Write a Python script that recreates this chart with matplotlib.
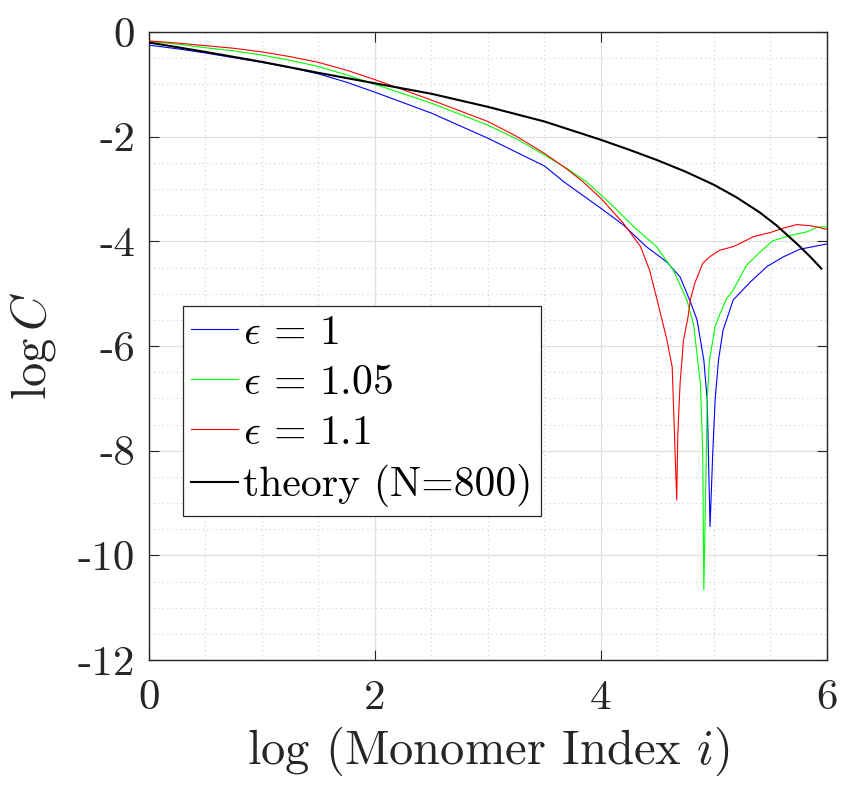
import matplotlib
matplotlib.use("Agg")
import matplotlib.pyplot as plt
from matplotlib.ticker import MultipleLocator

plt.rcParams["font.family"] = ["cmr10", "DejaVu Serif"]
plt.rcParams["mathtext.fontset"] = "cm"
plt.rcParams["axes.unicode_minus"] = False
plt.rcParams["axes.formatter.use_mathtext"] = True

# -------------------------------------------------
# datos (log i, log C)
# -------------------------------------------------
x_eps1 = [0.0, 0.25, 0.5, 0.75, 1.0, 1.25, 1.5, 1.75, 2.0, 2.5, 3.0, 3.5, 3.67, 4.0,
          4.2, 4.4, 4.58, 4.70, 4.79, 4.85, 4.91, 4.94, 4.965, 4.99, 5.01, 5.04, 5.08,
          5.17, 5.32, 5.47, 5.61, 5.76, 5.88, 6.0]
y_eps1 = [-0.25, -0.32, -0.40, -0.49, -0.58, -0.68, -0.80, -0.96, -1.15, -1.55, -2.03,
          -2.56, -2.86, -3.37, -3.69, -4.10, -4.39, -4.68, -5.15, -5.50, -6.27, -7.03,
          -9.45, -7.99, -7.03, -6.27, -5.70, -5.12, -4.78, -4.48, -4.30, -4.15, -4.10,
          -4.05]

x_eps105 = [0.0, 0.25, 0.5, 0.75, 1.0, 1.25, 1.5, 1.75, 2.0, 2.5, 3.0, 3.25, 3.5, 3.7,
            3.87, 4.08, 4.29, 4.49, 4.64, 4.76, 4.82, 4.88, 4.90, 4.91, 4.93, 4.94,
            4.96, 5.01, 5.05, 5.11, 5.17, 5.29, 5.41, 5.52, 5.67, 5.82, 5.91, 6.0]
y_eps105 = [-0.18, -0.23, -0.30, -0.36, -0.44, -0.54, -0.66, -0.82, -1.00, -1.36, -1.78,
            -2.04, -2.35, -2.61, -2.86, -3.27, -3.72, -4.10, -4.55, -5.12, -5.60, -6.72,
            -7.99, -10.66, -8.31, -7.03, -6.27, -5.63, -5.40, -5.10, -4.93, -4.45,
            -4.20, -3.99, -3.89, -3.82, -3.73, -3.72]

x_eps11 = [0.0, 0.25, 0.5, 0.75, 1.0, 1.25, 1.5, 1.75, 2.0, 2.5, 3.0, 3.25, 3.5, 3.7,
           3.84, 4.0, 4.2, 4.35, 4.43, 4.49, 4.54, 4.58, 4.63, 4.65, 4.67, 4.68, 4.70,
           4.73, 4.77, 4.79, 4.83, 4.90, 4.965, 5.05, 5.17, 5.23, 5.35, 5.50, 5.61,
           5.73, 5.85, 5.92, 6.0]
y_eps11 = [-0.17, -0.21, -0.26, -0.31, -0.38, -0.47, -0.58, -0.73, -0.91, -1.30, -1.71,
           -1.99, -2.32, -2.62, -2.86, -3.18, -3.66, -4.10, -4.55, -5.06, -5.50, -5.85,
           -6.40, -7.67, -8.94, -7.67, -6.71, -5.89, -5.45, -5.12, -4.80, -4.42, -4.29,
           -4.17, -4.10, -4.04, -3.91, -3.83, -3.75, -3.68, -3.70, -3.73, -3.77]

x_theory = [0.0, 0.5, 1.0, 1.5, 2.0, 2.5, 3.0, 3.5, 4.0, 4.25, 4.5, 4.75, 5.0, 5.2,
            5.4, 5.55, 5.7, 5.76, 5.85, 5.95]
y_theory = [-0.20, -0.38, -0.57, -0.78, -0.98, -1.18, -1.43, -1.71, -2.06, -2.25, -2.45,
            -2.67, -2.92, -3.16, -3.44, -3.69, -3.98, -4.10, -4.29, -4.52]

labels = [r"$\epsilon\,=\,1$", r"$\epsilon\,=\,1.05$", r"$\epsilon\,=\,1.1$",
          "theory (N=800)"]

xticks = [0, 2, 4, 6]
yticks = [0, -2, -4, -6, -8, -10, -12]
ytick_labels = ["0", "-2", "-4", "-6", "-8", "-10", "-12"]


def main():
    fig = plt.figure(figsize=(8.45, 7.89), dpi=100)
    ax = fig.add_axes([0.1763, 0.1635, 0.8024, 0.7959])

    ax.plot(x_eps1, y_eps1, color=(0, 0, 1), lw=0.8, label=labels[0], zorder=3)
    ax.plot(x_eps105, y_eps105, color=(0, 1, 0), lw=0.8, label=labels[1], zorder=3)
    ax.plot(x_eps11, y_eps11, color=(1, 0, 0), lw=0.8, label=labels[2], zorder=3)
    ax.plot(x_theory, y_theory, color="black", lw=1.5, label=labels[3], zorder=4)

    ax.set_xlim(0, 6)
    ax.set_ylim(-12, 0)
    ax.set_xticks(xticks)
    ax.set_xticklabels([str(t) for t in xticks])
    ax.set_yticks(yticks)
    ax.set_yticklabels(ytick_labels)
    ax.xaxis.set_minor_locator(MultipleLocator(0.5))
    ax.yaxis.set_minor_locator(MultipleLocator(0.5))

    # rejilla estilo MATLAB
    ax.grid(True, which="major", color="#dfdfdf", lw=0.9, ls="-", zorder=0)
    ax.grid(True, which="minor", color="#d0d0d0", lw=0.8, ls=(0, (1, 3)), zorder=0)
    ax.set_axisbelow(True)

    ax.tick_params(which="major", direction="in", length=7, width=0.8, color="#262626",
                   top=True, right=True, labelsize=31, pad=10, labelcolor="#262626")
    ax.tick_params(axis="x", which="major", pad=14)
    ax.tick_params(which="minor", length=0)
    for s in ax.spines.values():
        s.set_color("#262626")
        s.set_linewidth(1.0)

    ax.set_xlabel(r"log (Monomer Index $i$)", fontsize=35, color="#262626", labelpad=6)
    ax.set_ylabel(r"$\log C$", fontsize=35, color="#262626", labelpad=14)

    leg = ax.legend(loc="upper left", bbox_to_anchor=(0.050, 0.5637), borderaxespad=0,
                    fontsize=30, frameon=True, fancybox=False, framealpha=1,
                    edgecolor="#262626", handlelength=1.13, handletextpad=0.12,
                    labelspacing=0.3, borderpad=0.2)
    leg.get_frame().set_linewidth(0.9)
    for t in leg.get_texts():
        t.set_color("black")

    fig.savefig("out.png", dpi=100)
    plt.close(fig)


if __name__ == "__main__":
    main()
